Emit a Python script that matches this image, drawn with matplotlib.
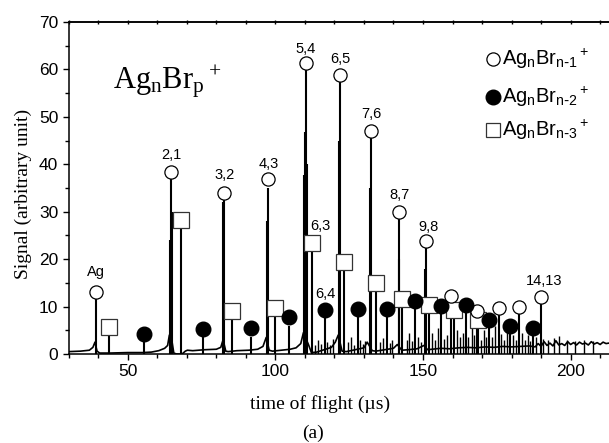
import matplotlib
matplotlib.use("Agg")
import matplotlib.pyplot as plt
from matplotlib.lines import Line2D
import numpy as np

# ---------------- data ----------------
# slowly varying baseline of the time-of-flight trace
base_x = [30, 34, 37, 38.2, 38.9, 39.6, 40.5, 44, 50, 55, 58, 60.5, 62.5, 63.5, 64.1,
          64.9, 65.6, 66.5, 68.4, 69.5, 70.2, 72, 76, 80, 81.5, 82.3, 83.2, 84, 87, 91,
          94, 95.8, 96.9, 97.9, 99, 102, 105, 107, 108.6, 109.5, 111.2, 112.2, 114,
          116, 119, 120.3, 121.3, 122.6, 124, 127, 130, 131.1, 132.8, 134, 137, 140,
          141.3, 142.8, 145, 148, 150.3, 151.6, 153, 156, 159, 162, 165, 168, 171, 174,
          177, 180, 183, 186, 188, 189, 190, 191, 192, 193, 194, 195, 196, 197, 198,
          199, 200, 201, 202, 203, 204, 205, 206, 207, 208, 209, 210, 211, 212, 213]
base_y = [0.5, 0.6, 0.8, 1.4, 2.5, 0.6, 0.2, 0.2, 0.3, 0.3, 0.4, 0.7, 1.2, 1.8, 4.0,
          3.0, 0.2, 0.0, 0.0, 0.6, 0.8, 0.7, 0.9, 1.0, 1.4, 3.0, 0.6, 0.5, 0.7, 0.8,
          1.0, 1.6, 3.5, 0.8, 0.6, 0.8, 1.0, 1.3, 2.2, 4.5, 2.0, 0.3, 0.4,
          0.8, 1.4, 2.5, 4.0, 0.6, 0.5, 0.9, 1.3, 2.5, 0.7, 0.6, 0.9, 1.2,
          2.0, 0.8, 0.9, 1.1, 1.8, 0.9, 1.0, 1.2, 1.1, 1.3, 1.4, 1.3, 1.5, 1.4,
          1.6, 1.5, 1.6, 1.7, 1.5, 2.2, 1.6, 2.6, 1.8, 2.3, 1.7, 2.8, 1.9, 2.2, 1.8,
          2.6, 2.0, 2.4, 1.9, 2.5, 2.1, 2.3, 1.9, 2.6, 2.1, 2.4, 2.0, 2.5, 2.2, 2.3]

# peaks of the spectrum (position in us, height)
peak_x = [39.2, 43.7, 55.5, 64.3, 64.7, 65.0, 67.9, 75.5, 82.4, 82.7, 85.4, 91.8,
          97.2, 97.5, 100.0, 104.7, 109.7, 110.1, 110.4, 110.7, 112.4, 116.8, 121.7,
          122.0, 123.3, 127.9, 132.0, 132.3, 134.1, 137.8, 141.8, 142.0, 142.8, 147.3,
          150.8, 151.0, 152.2, 156.1, 159.5, 160.5, 164.5, 168.2, 168.5, 172.5, 175.6,
          179.5, 182.4, 187.1, 189.8]
peak_h = [11.5, 5.7, 3.5, 24.0, 38.4, 30.0, 28.3, 3.8, 32.0, 34.0, 9.1, 3.5,
          28.0, 35.0, 9.6, 6.0, 37.7, 46.8, 61.3, 40.0, 23.5, 8.0, 45.0,
          58.8, 19.3, 8.5, 35.0, 47.1, 14.9, 8.5, 20.0, 29.9, 11.7, 10.0,
          18.0, 23.8, 10.3, 9.0, 12.2, 9.3, 10.3, 9.1, 7.2, 6.5, 9.6,
          5.5, 10.0, 5.0, 12.0]

# small noise spikes
spike_x = [113.5, 114.5, 115.5, 117.5, 118.5, 119.5, 124.5, 125.5, 126.8, 128.8, 129.8,
           130.5, 135.5, 136.5, 138.8, 139.5, 144.5, 145.3, 146.2, 148.2, 149.2, 153.0,
           154.0, 155.0, 157.0, 158.2, 161.5, 162.5, 163.5, 165.3, 166.5, 167.2, 169.5,
           170.5, 171.3, 173.5, 174.5, 176.5, 177.5, 178.5, 180.5, 181.5, 183.5, 184.5,
           185.5, 186.3, 188.3, 190.5, 192.5, 194.5, 196.2, 198.8, 201.5, 204.5, 207.5]
spike_h = [2.0, 3.0, 2.2, 2.5, 1.8, 3.2, 2.5, 3.5, 2.0, 3.0, 2.2, 2.8, 2.6, 3.4, 2.4,
           3.0, 3.0, 4.5, 2.8, 3.5, 2.6, 4.5, 3.0, 5.5, 3.2, 4.0, 5.0, 3.5, 4.5, 3.5,
           6.0, 4.0, 3.0, 5.0, 3.6, 3.5, 6.0, 4.2, 3.0, 5.0, 4.0, 3.0, 4.5, 3.0, 4.0,
           2.8, 3.5, 3.2, 3.0, 3.3, 3.8, 3.0, 2.8, 2.9, 2.8]

# markers
open_x = [39.2, 64.7, 82.7, 97.5, 110.4, 122.0, 132.3, 142.0, 151.0, 159.5, 168.2,
          175.6, 182.4, 189.8]
open_y = [13.1, 38.4, 34.0, 36.9, 61.3, 58.8, 47.1, 29.9, 23.8, 12.2, 9.1, 9.6, 10.0, 12.0]
fill_x = [55.5, 75.5, 91.8, 104.7, 116.8, 127.9, 137.8, 147.3, 156.1, 164.5, 172.5,
          179.5, 187.1]
fill_y = [4.3, 5.3, 5.5, 7.9, 9.3, 9.5, 9.5, 11.2, 10.1, 10.3, 7.1, 5.9, 5.4]
sq_x = [43.7, 67.9, 85.4, 100.0, 112.4, 123.3, 134.1, 142.8, 152.2, 160.5, 168.5]
sq_y = [5.7, 28.3, 9.1, 9.6, 23.5, 19.3, 14.9, 11.7, 10.3, 9.3, 7.2]

# peak annotations
ann_text = ["Ag", "2,1", "3,2", "4,3", "5,4", "6,5", "7,6", "8,7", "9,8", "6,3", "6,4", "14,13"]
ann_x = [39.3, 64.7, 82.7, 97.6, 110.4, 121.9, 132.6, 142.2, 151.8, 115.4, 117.1, 191.0]
ann_y = [17.3, 42.0, 37.7, 40.1, 64.4, 62.1, 50.5, 33.5, 26.8, 27.0, 12.6, 15.4]

legend_labels = [r"$\mathregular{Ag_nBr_{n\text{-}1}{}^+}$",
                 r"$\mathregular{Ag_nBr_{n\text{-}2}{}^+}$",
                 r"$\mathregular{Ag_nBr_{n\text{-}3}{}^+}$"]
title_text = r"$\mathregular{Ag_nBr_p{}^+}$"
xlabel = "time of flight (\u00b5s)"
ylabel = "Signal (arbitrary unit)"
panel = "(a)"

# ---------------- figure ----------------
SANS = "Liberation Sans"
SERIF = "Liberation Serif"
plt.rcParams["font.family"] = SANS

W, H = 609, 443
fig = plt.figure(figsize=(W / 100, H / 100), dpi=100)
ax = fig.add_axes([68.7 / W, 1 - 354 / H, 1 - 68.7 / W, (354 - 22) / H])

ax.plot(base_x, base_y, color="black", lw=1.2, zorder=2)
ax.vlines(peak_x, 0, peak_h, color="black", lw=1.5, zorder=2)
ax.vlines(spike_x, 0, spike_h, color="black", lw=1.0, zorder=2)

ax.plot(open_x, open_y, ls="none", marker="o", ms=9.5, mfc="white", mec="black",
        mew=0.9, zorder=4)
ax.plot(fill_x, fill_y, ls="none", marker="o", ms=10.5, mfc="black", mec="black",
        zorder=4)
ax.plot(sq_x, sq_y, ls="none", marker="s", ms=11.5, mfc="white", mec="#333333",
        mew=0.9, zorder=3)

for t, x, y in zip(ann_text, ann_x, ann_y):
    ax.text(x, y, t, ha="center", va="center", fontsize=10.5, family=SANS, zorder=5)

fig.text(113 / W, 1 - 89 / H, title_text, family=SERIF, fontsize=22,
         ha="left", va="baseline")

# legend (manual)
leg_mx = 493 / W
leg_rows = [59, 97, 130]
leg_styles = [dict(marker="o", ms=9.5, mfc="white", mec="black", mew=0.9),
              dict(marker="o", ms=10.5, mfc="black", mec="black"),
              dict(marker="s", ms=10.5, mfc="white", mec="#333333", mew=0.9)]
for lab, yy, st in zip(legend_labels, leg_rows, leg_styles):
    fig.lines.append(Line2D([leg_mx], [1 - yy / H], ls="none",
                            transform=fig.transFigure, **st))
    fig.text(502 / W, 1 - yy / H, lab, family=SANS, fontsize=14.5,
             ha="left", va="center")

ax.set_xlim(30, 213)
ax.set_ylim(0, 70)
ax.set_xticks([50, 100, 150, 200])
ax.set_xticks(np.arange(30, 214, 10), minor=True)
ax.set_yticks(np.arange(0, 71, 10))
ax.set_yticks(np.arange(0, 71, 5), minor=True)
ax.tick_params(axis="both", which="major", direction="out", length=4, width=1,
               labelsize=12.5)
ax.tick_params(axis="both", which="minor", direction="out", length=3, width=1)
for lbl in ax.get_xticklabels() + ax.get_yticklabels():
    lbl.set_family(SANS)
ax.spines["right"].set_visible(False)
for s in ["left", "bottom", "top"]:
    ax.spines[s].set_linewidth(1.1)

top = ax.secondary_xaxis("top")
top.set_xticks(np.arange(30, 214, 10))
top.tick_params(direction="inout", length=2.5, width=1, labeltop=False)
top.set_xticklabels([])
top.spines["top"].set_linewidth(1.1)

fig.text(320 / W, 1 - 404 / H, xlabel, family=SERIF, fontsize=14,
         ha="center", va="center")
fig.text(313 / W, 1 - 433 / H, panel, family=SERIF, fontsize=14,
         ha="center", va="center")
fig.text(23 / W, 1 - 194 / H, ylabel, family=SERIF, fontsize=14, rotation=90,
         ha="center", va="center")

fig.savefig("out.png", dpi=100)
